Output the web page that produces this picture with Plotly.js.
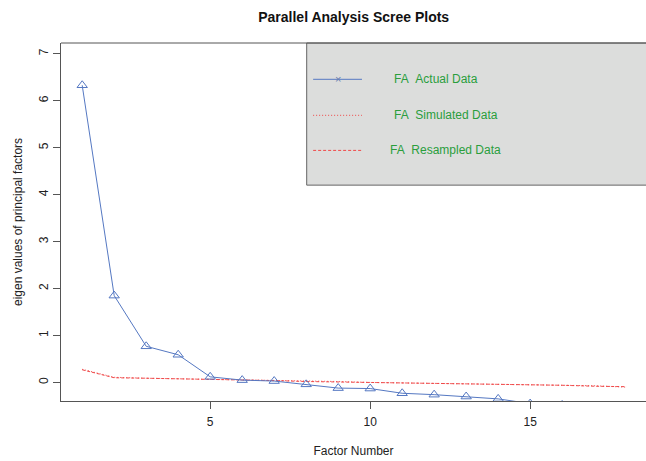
<!DOCTYPE html>
<html>
<head>
<meta charset="utf-8">
<script src="https://cdn.plot.ly/plotly-3.0.1.min.js"></script>
<style>html,body{margin:0;padding:0;background:#fff;}#chart{width:646px;height:461px;}</style>
</head>
<body>
<div id="chart"></div>
<script>
const factors = [1,2,3,4,5,6,7,8,9,10,11,12,13,14,15,16,17,18];
const actualData = [6.33,1.85,0.77,0.59,0.12,0.05,0.03,-0.04,-0.12,-0.13,-0.23,-0.26,-0.30,-0.35,-0.45,-0.48,-0.55,-0.62];
const simulatedData = [0.28,0.11,0.09,0.08,0.07,0.05,0.04,0.03,0.02,0.00,-0.01,-0.02,-0.03,-0.03,-0.05,-0.06,-0.07,-0.10];
const resampledData = [0.27,0.10,0.09,0.08,0.06,0.05,0.04,0.02,0.01,0.00,-0.01,-0.02,-0.02,-0.04,-0.05,-0.06,-0.08,-0.09];
const xTicks = [5,10,15];
const yTicks = [0,1,2,3,4,5,6,7];
const legendLabels = ["FA\u00a0\u00a0Actual Data","FA\u00a0\u00a0Simulated Data","FA\u00a0\u00a0Resampled Data"];

const blue = "#5578c2";
const red = "#f04848";
const green = "#2a9e3c";
const dotDash = "1px,2px";
const dashDash = "3px,2px";

const traces = [
  {x: factors, y: simulatedData, mode: "lines", line: {color: red, width: 1, dash: dotDash}, showlegend: false, hoverinfo: "skip"},
  {x: factors, y: resampledData, mode: "lines", line: {color: red, width: 1, dash: dashDash}, showlegend: false, hoverinfo: "skip"},
  {x: factors, y: actualData, mode: "lines+markers", line: {color: blue, width: 1},
   marker: {symbol: "triangle-up-open", size: 9, color: blue, line: {width: 1, color: blue}}, showlegend: false}
];

const legRows = [0.8986, 0.798, 0.700];
const legTextX = [0.5658, 0.5658, 0.5590];
const shapes = [
  {type: "rect", xref: "paper", yref: "paper", x0: 0.420, x1: 1.02, y0: 0.603, y1: 1, fillcolor: "#dcdddc", line: {color: "#666", width: 1}, layer: "below"},
  {type: "line", xref: "paper", yref: "paper", x0: 0, x1: 1, y0: 1, y1: 1, line: {color: "#555", width: 1}},
  {type: "line", xref: "paper", yref: "paper", x0: 0.431, x1: 0.5145, y0: legRows[0], y1: legRows[0], line: {color: blue, width: 1}},
  {type: "line", xref: "paper", yref: "paper", x0: 0.431, x1: 0.5145, y0: legRows[1], y1: legRows[1], line: {color: red, width: 1, dash: dotDash}},
  {type: "line", xref: "paper", yref: "paper", x0: 0.431, x1: 0.5145, y0: legRows[2], y1: legRows[2], line: {color: red, width: 1, dash: dashDash}}
];
const annotations = legendLabels.map((t, i) => ({
  text: t, xref: "paper", yref: "paper", x: legTextX[i], y: legRows[i], xanchor: "left", yanchor: "middle",
  showarrow: false, font: {family: "Liberation Sans, Arial, sans-serif", size: 12, color: green}
}));
annotations.push({text: "\u00d7", xref: "paper", yref: "paper", x: 0.4728, y: legRows[0], xanchor: "center", yanchor: "middle",
  showarrow: false, font: {family: "Liberation Sans, Arial, sans-serif", size: 11, color: "#6a7fb0"}});

const layout = {
  width: 646, height: 461,
  margin: {l: 61, r: 0, t: 43, b: 60},
  paper_bgcolor: "#fff", plot_bgcolor: "#fff",
  font: {family: "Liberation Sans, Arial, sans-serif", size: 12, color: "#222"},
  title: {text: "<b>Parallel Analysis Scree Plots</b>", x: 0.5475, xanchor: "center", y: 1 - 17/461, yanchor: "middle", yref: "container",
          font: {family: "Liberation Sans, Arial, sans-serif", size: 14, color: "#111"}},
  xaxis: {range: [0.3375, 18.62], tickmode: "array", tickvals: xTicks, ticktext: xTicks.map(String),
          showgrid: false, zeroline: false, showline: true, linecolor: "#555", linewidth: 1,
          ticks: "outside", ticklen: 7, tickcolor: "#555", tickfont: {size: 12, color: "#222"}, ticklabelstandoff: 3,
          title: {text: "Factor Number", standoff: 18, font: {size: 12, color: "#222"}}},
  yaxis: {range: [-0.395, 7.23], tickmode: "array", tickvals: yTicks, ticktext: yTicks.map(String), tickangle: -90,
          showgrid: false, zeroline: false, showline: true, linecolor: "#555", linewidth: 1,
          ticks: "outside", ticklen: 7, tickcolor: "#555", tickfont: {size: 12, color: "#222"},
          title: {text: "eigen values of principal factors", standoff: 12, font: {size: 12, color: "#222"}}},
  shapes: shapes,
  annotations: annotations,
  showlegend: false
};

Plotly.newPlot("chart", traces, layout, {displayModeBar: false, staticPlot: true});
</script>
</body>
</html>
